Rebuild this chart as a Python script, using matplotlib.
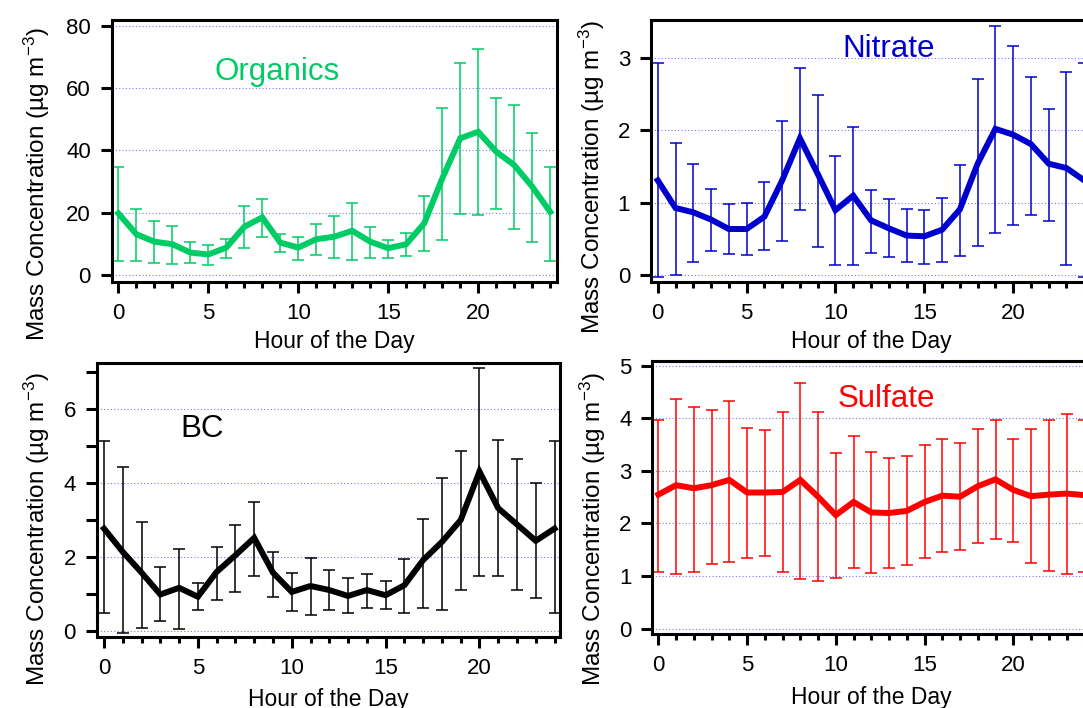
import numpy as np
import matplotlib
matplotlib.use("Agg")
import matplotlib.pyplot as plt
from matplotlib.ticker import MultipleLocator

plt.rcParams['font.family'] = ['Liberation Sans', 'DejaVu Sans']
plt.rcParams['mathtext.default'] = 'regular'

hours = list(range(25))

org_mean = [19.8, 13.1, 10.7, 9.9, 7.2, 6.6, 8.8, 15.5, 18.5, 10.4, 8.8, 11.5, 12.3,
            14.2, 10.7, 8.6, 9.9, 16.6, 31.0, 43.9, 46.0, 39.6, 35.3, 28.4, 20.3]
org_hi = [34.8, 21.2, 17.3, 15.8, 10.5, 9.7, 11.6, 22.2, 24.4, 13.2, 12.3, 16.3, 19.1,
          23.2, 15.5, 11.2, 13.6, 25.5, 53.5, 68.2, 72.5, 57.0, 54.7, 45.7, 34.8]
org_lo = [4.6, 4.6, 3.9, 3.6, 3.7, 3.2, 5.4, 8.6, 12.3, 7.4, 4.7, 6.3, 5.4,
          4.8, 5.6, 5.4, 6.2, 7.6, 11.2, 19.5, 19.3, 21.2, 14.7, 10.7, 4.6]

no3_mean = [1.31, 0.93, 0.87, 0.77, 0.64, 0.64, 0.81, 1.31, 1.89, 1.40, 0.90, 1.10, 0.76,
            0.65, 0.55, 0.54, 0.63, 0.91, 1.54, 2.02, 1.94, 1.81, 1.54, 1.48, 1.31]
no3_hi = [2.93, 1.82, 1.54, 1.19, 0.99, 1.00, 1.29, 2.13, 2.86, 2.48, 1.65, 2.05, 1.18,
          1.05, 0.91, 0.90, 1.07, 1.52, 2.71, 3.44, 3.16, 2.74, 2.30, 2.81, 2.93]
no3_lo = [-0.02, 0.01, 0.18, 0.34, 0.29, 0.28, 0.35, 0.48, 0.90, 0.39, 0.15, 0.15, 0.31,
          0.25, 0.18, 0.16, 0.18, 0.27, 0.41, 0.59, 0.70, 0.84, 0.75, 0.14, -0.02]

bc_mean = [2.77, 2.14, 1.58, 0.99, 1.17, 0.93, 1.60, 2.05, 2.52, 1.58, 1.06, 1.22, 1.11,
           0.95, 1.11, 0.97, 1.24, 1.92, 2.41, 3.00, 4.31, 3.32, 2.88, 2.44, 2.77]
bc_hi = [5.13, 4.44, 2.95, 1.72, 2.23, 1.31, 2.26, 2.87, 3.50, 2.14, 1.56, 1.98, 1.65,
         1.43, 1.54, 1.35, 1.94, 3.02, 4.13, 4.87, 7.12, 5.15, 4.64, 3.99, 5.13]
bc_lo = [0.48, -0.06, 0.09, 0.28, 0.05, 0.57, 0.84, 1.06, 1.50, 0.93, 0.54, 0.43, 0.57,
         0.50, 0.63, 0.60, 0.50, 0.63, 0.56, 1.11, 1.50, 1.49, 1.10, 0.89, 0.48]

so4_mean = [2.55, 2.73, 2.67, 2.73, 2.83, 2.59, 2.59, 2.60, 2.83, 2.51, 2.16, 2.41, 2.21,
            2.20, 2.24, 2.41, 2.53, 2.51, 2.71, 2.84, 2.64, 2.52, 2.55, 2.57, 2.54]
so4_hi = [3.98, 4.37, 4.22, 4.17, 4.33, 3.81, 3.78, 4.12, 4.67, 4.12, 3.34, 3.66, 3.37,
          3.25, 3.28, 3.49, 3.61, 3.53, 3.79, 3.98, 3.61, 3.79, 3.98, 4.09, 3.98]
so4_lo = [1.08, 1.04, 1.07, 1.23, 1.27, 1.34, 1.38, 1.07, 0.95, 0.91, 0.97, 1.16, 1.05,
          1.16, 1.21, 1.34, 1.45, 1.49, 1.62, 1.70, 1.65, 1.24, 1.10, 1.04, 1.08]

W, H = 1083, 708
fig = plt.figure(figsize=(W / 100, H / 100), dpi=100)


def px_axes(left, top, right, bottom):
    return fig.add_axes([left / W, 1 - bottom / H, (right - left) / W, (bottom - top) / H])


ylabel = 'Mass Concentration (µg m$^{-3}$)'

panels = [
    dict(box=(111.7, 20, 557, 282), mean=org_mean, hi=org_hi, lo=org_lo, color='#00CC66',
         name='Organics', txy=(0.371, 0.80), ylim=(-2.25, 81.9),
         major=20, minor=None, xlim=(-0.37, 24.38), ylx=-0.134, yly=0.374, xly=-0.185),
    dict(box=(651, 20, 1091, 282), mean=no3_mean, hi=no3_hi, lo=no3_lo, color='#0000CC',
         name='Nitrate', txy=(0.539, 0.89), ylim=(-0.09, 3.52),
         major=1, minor=None, xlim=(-0.38, 24.38), ylx=-0.100, yly=0.399, xly=-0.185),
    dict(box=(96.7, 362.7, 560, 636.7), mean=bc_mean, hi=bc_hi, lo=bc_lo, color='black',
         name='BC', txy=(0.227, 0.757), ylim=(-0.15, 7.25),
         major=2, minor=1, xlim=(-0.39, 24.29), ylx=-0.0965, yly=0.393, xly=-0.189),
    dict(box=(652.3, 360.7, 1091, 634.3), mean=so4_mean, hi=so4_hi, lo=so4_lo, color='#FF0000',
         name='Sulfate', txy=(0.533, 0.86), ylim=(-0.11, 5.10),
         major=1, minor=None, xlim=(-0.34, 24.38), ylx=-0.101, yly=0.385, xly=-0.189),
]

for p in panels:
    ax = px_axes(*p['box'])
    mean = np.array(p['mean'])
    yerr = [mean - np.array(p['lo']), np.array(p['hi']) - mean]
    ax.errorbar(hours, mean, yerr=yerr, fmt='none', ecolor=p['color'], elinewidth=1.1,
                capsize=4, capthick=1.1, zorder=2)
    ax.plot(hours, mean, color=p['color'], lw=4.3, solid_joinstyle='miter', zorder=3)
    ax.set_xlim(*p['xlim'])
    ax.set_ylim(*p['ylim'])
    ax.xaxis.set_major_locator(MultipleLocator(5))
    ax.xaxis.set_minor_locator(MultipleLocator(1))
    ax.yaxis.set_major_locator(MultipleLocator(p['major']))
    if p['minor']:
        ax.yaxis.set_minor_locator(MultipleLocator(p['minor']))
    else:
        ax.yaxis.set_minor_locator(plt.NullLocator())
    ax.grid(True, axis='y', which='major', color='#7777FF', linestyle=(0, (1, 2)),
            linewidth=0.8, zorder=0)
    for s in ax.spines.values():
        s.set_linewidth(2.2)
    ax.tick_params(axis='both', which='major', direction='out', length=8, width=2.2,
                   labelsize=16, colors='black')
    ax.tick_params(axis='x', which='major', pad=7)
    ax.tick_params(axis='y', which='major', pad=7)
    ax.tick_params(axis='x', which='minor', direction='out', length=4.5, width=2.2)
    ax.tick_params(axis='y', which='minor', direction='out', length=8, width=2.2)
    ax.set_xlabel('Hour of the Day', fontsize=16.5)
    ax.xaxis.set_label_coords(0.5, p['xly'])
    ax.set_ylabel(ylabel, fontsize=17.5)
    ax.yaxis.set_label_coords(p['ylx'], p['yly'])
    ax.text(p['txy'][0], p['txy'][1], p['name'], transform=ax.transAxes, color=p['color'],
            fontsize=22.5, ha='center', va='center')

fig.savefig('out.png', dpi=100)
